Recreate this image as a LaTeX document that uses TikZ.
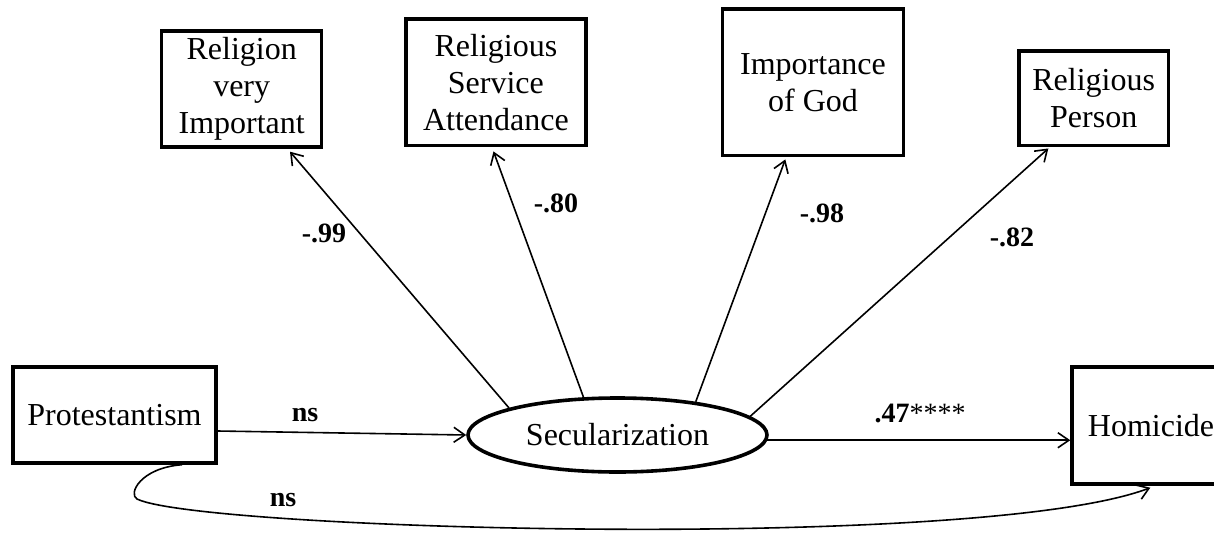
\documentclass[tikz,border=0pt]{standalone}
\usepackage{fontspec}
\setmainfont{Liberation Serif}
\usetikzlibrary{shapes.geometric,arrows.meta,calc}
\begin{document}
\begin{tikzpicture}[x=1pt,y=-1pt,
  box/.style={draw,line width=3.4pt,align=center,inner sep=0pt,font=\fontsize{32}{37}\selectfont},
  latent/.style={draw,ellipse,line width=3.6pt,inner sep=0pt,font=\fontsize{32}{37}\selectfont},
  arr/.style={line width=1.6pt,-{Straight Barb[length=11pt,width=15pt,line width=1.6pt]}},
  coef/.style={font=\fontsize{28}{30}\selectfont\bfseries,inner sep=0pt}]
\useasboundingbox (0,0) rectangle (1214,535);
\clip (0,0) rectangle (1214,535);
% indicator boxes
\node[box,minimum width=160pt,minimum height=116pt] (b1) at (241.7,89) {Religion\\very\\Important};
\node[box,minimum width=180pt,minimum height=126.7pt] (b2) at (495.9,82.4) {Religious\\Service\\Attendance};
\node[box,minimum width=180.6pt,minimum height=146.7pt] (b3) at (813,82.4) {Importance\\of God};
\node[box,minimum width=149.3pt,minimum height=94.7pt] (b4) at (1093.7,98.4) {Religious\\Person};
% structural part
\node[box,minimum width=203pt,minimum height=96pt] (prot) at (114.5,415) {Protestantism};
\node[box,minimum width=158pt,minimum height=117pt] (hom) at (1151,425.5) {Homicide};
\node[latent,minimum width=299pt,minimum height=74pt] (sec) at (617.5,435) {Secularization};
% loadings
\draw[arr] (sec.166.6) -- ($(b1.south west)+(130,3)$);
\draw[arr] (sec.132) -- ($(b2.south west)+(89.3,4)$);
\draw[arr] (sec.23) -- ($(b3.south west)+(64.3,2)$);
\draw[arr] (sec.8) -- ($(b4.south west)+(31,1)$);
% paths
\draw[arr] ($(prot.east)+(0,16)$) -- (sec.west);
\draw[arr] (sec.-2) -- (sec.-2 -| hom.west);
\draw[arr] ($(prot.south)+(67.5,0)$) .. controls (140,468) and (128,494) .. (137,499)
  .. controls (200,530) and (980,552) .. ($(hom.south west)+(80,2)$);
% coefficients
\node[coef] (c1) at (324,233) {-.99};
\node[coef] (c2) at (556,203) {-.80};
\node[coef] (c3) at (822,213) {-.98};
\node[coef] (c4) at (1012,237) {-.82};
\node[coef] (c5) at (305,415) {ns};
\node[coef] (c6) at (283,500) {ns};
\node[coef] (c7) at (920,413) {.47\mdseries****};
\end{tikzpicture}
\end{document}
